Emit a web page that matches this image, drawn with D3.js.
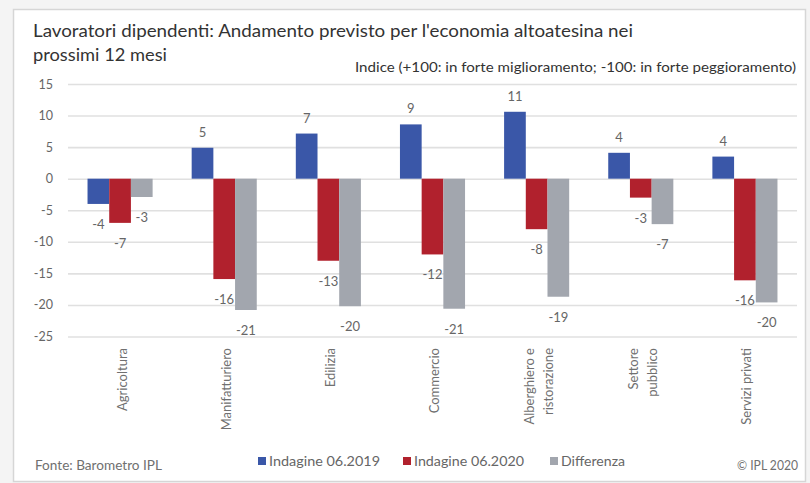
<!DOCTYPE html>
<html><head><meta charset="utf-8">
<script src="https://cdn.jsdelivr.net/npm/d3@7"></script>
<style>html,body{margin:0;padding:0;background:#f4f4f4;}svg{display:block;font-family:Lato,"Noto Sans",sans-serif;}</style>
</head><body>
<svg id="c" width="810" height="483"></svg>
<script>
const categories = ["Agricoltura","Manifatturiero","Edilizia","Commercio","Alberghiero e\nristorazione","Settore\npubblico","Servizi privati"];
const seriesNames = ["Indagine 06.2019","Indagine 06.2020","Differenza"];
const values2019 = [-4.0, 4.9, 7.15, 8.6, 10.6, 4.1, 3.5];
const values2020 = [-7.0, -15.9, -13.0, -12.0, -8.0, -3.0, -16.1];
const valuesDiff = [-2.9, -20.8, -20.2, -20.6, -18.7, -7.2, -19.6];
const yTicks = [15, 10, 5, 0, -5, -10, -15, -20, -25];
const colors = ["#3a57a8", "#b1212d", "#a2a6ae"];
const title = ["Lavoratori dipendenti: Andamento previsto per l'economia altoatesina nei", "prossimi 12 mesi"];
const subtitle = "Indice (+100: in forte miglioramento; -100: in forte peggioramento)";
const source = "Fonte:  Barometro IPL";
const copyright = "© IPL 2020";

const series = [values2019, values2020, valuesDiff];
const svg = d3.select("#c");

function fit(sel, w){ sel.attr("textLength", w).attr("lengthAdjust","spacingAndGlyphs"); return sel; }
const fmt = v => String(Math.round(v));

// frame
svg.append("rect").attr("x",13.5).attr("y",9.5).attr("width",792).attr("height",472)
  .attr("fill","#fff").attr("stroke","#d6d6d6").attr("stroke-width",1.5);

// title
fit(svg.append("text").attr("x",33).attr("y",37).attr("font-size",17.5).attr("fill","#333").text(title[0]), 600);
fit(svg.append("text").attr("x",33).attr("y",61).attr("font-size",17.5).attr("fill","#333").text(title[1]), 134);
fit(svg.append("text").attr("x",355).attr("y",72).attr("font-size",13.5).attr("fill","#333").text(subtitle), 441);

const x0 = d3.scaleBand().domain(d3.range(categories.length)).range([68, 797]).paddingInner(0.375).paddingOuter(0.1875);
const x1 = d3.scaleBand().domain(d3.range(3)).range([0, x0.bandwidth()]);
const y = d3.scaleLinear().domain([-25, 15]).range([336.5, 84]);

// grid
const yAxis = d3.axisLeft(y).tickValues(yTicks).tickSize(-(797-68)).tickPadding(15).tickFormat(fmt);
const ga = svg.append("g").attr("transform","translate(68,0)").call(yAxis);
ga.select(".domain").remove();
ga.selectAll(".tick line").attr("stroke","#e0e0e0").attr("stroke-width",1.6);
ga.selectAll(".tick text").attr("fill","#666").attr("font-size",12.5).attr("font-family","Lato,sans-serif");

// bars
categories.forEach((c, i) => {
  series.forEach((vals, s) => {
    const v = vals[i];
    const xb = x0(i) + x1(s);
    svg.append("rect").attr("x", xb).attr("width", x1.bandwidth())
      .attr("y", y(Math.max(0, v))).attr("height", Math.abs(y(v) - y(0)))
      .attr("fill", colors[s]);
    const cx = xb + x1.bandwidth()/2;
    const ly = v >= 0 ? y(v) - 11 : y(v) + 25;
    svg.append("text").attr("x", cx).attr("y", ly).attr("text-anchor","middle")
      .attr("font-size",13).attr("fill","#666").text(fmt(v));
  });
  // category label
  const lines = c.split("\n");
  const cx = x0(i) + x0.bandwidth()/2 + 2;
  const t = svg.append("text").attr("transform", `translate(${cx},348) rotate(-90)`)
    .attr("text-anchor","end").attr("font-size",13).attr("fill","#707070");
  const lh = 19;
  lines.forEach((ln, k) => {
    t.append("tspan").attr("x",0).attr("y", (k - (lines.length-1)/2) * lh).attr("dy","0.35em").text(ln);
  });
});

// legend
const lg = [{x:258},{x:403},{x:550}];
const lgw = [111, 110, 64];
seriesNames.forEach((n, s) => {
  svg.append("rect").attr("x", lg[s].x).attr("y", 457).attr("width",8).attr("height",8).attr("fill",colors[s]);
  fit(svg.append("text").attr("x", lg[s].x + 11).attr("y", 466).attr("font-size",14).attr("fill","#666").text(n), lgw[s]);
});
fit(svg.append("text").attr("x",35).attr("y",470).attr("font-size",12.5).attr("fill","#707070").text(source), 127);
fit(svg.append("text").attr("x",737).attr("y",470).attr("font-size",12.5).attr("fill","#707070").text(copyright), 61);
</script>
</body></html>
